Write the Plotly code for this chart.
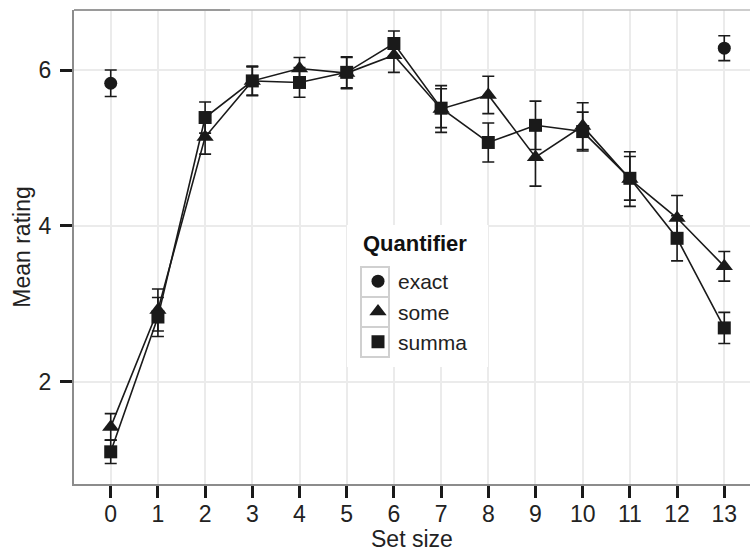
import plotly.graph_objects as go

set_size = list(range(14))

exact_x = [0, 13]
exact_y = [5.83, 6.28]
exact_err = [0.17, 0.16]

some_y = [1.42, 2.92, 5.14, 5.86, 6.02, 5.96, 6.19, 5.50, 5.68, 4.88, 5.28, 4.60, 4.10, 3.48]
some_err = [0.17, 0.27, 0.22, 0.18, 0.14, 0.20, 0.22, 0.30, 0.24, 0.37, 0.30, 0.35, 0.29, 0.19]

summa_y = [1.10, 2.83, 5.39, 5.86, 5.84, 5.97, 6.34, 5.51, 5.07, 5.29, 5.21, 4.61, 3.84, 2.69]
summa_err = [0.15, 0.25, 0.20, 0.19, 0.19, 0.20, 0.16, 0.25, 0.25, 0.31, 0.25, 0.28, 0.29, 0.20]

x_ticks = list(range(14))
y_ticks = [2, 4, 6]

INK = "#1a1a1a"
FONT = "Liberation Sans, Arial, Helvetica, sans-serif"

# plot area in pixels
L, T, R, B = 74, 10, 750, 484
W, H = R - L, B - T

def px(x):
    return (x - L) / W

def py(y):
    return (B - y) / H

fig = go.Figure()

# connecting lines
for ys, name in [(some_y, "some"), (summa_y, "summa")]:
    fig.add_trace(go.Scatter(x=set_size, y=ys, mode="lines",
                             line=dict(color=INK, width=1.6),
                             showlegend=False, hoverinfo="skip"))

series = [
    ("exact", exact_x, exact_y, exact_err, "circle", 13),
    ("some", set_size, some_y, some_err, "triangle-up", 15),
    ("summa", set_size, summa_y, summa_err, "square", 13),
]
for name, xs, ys, es, sym, sz in series:
    fig.add_trace(go.Scatter(
        x=xs, y=ys, mode="markers", name=name,
        marker=dict(symbol=sym, size=sz, color=INK, line=dict(width=0)),
        error_y=dict(type="data", array=es, visible=True, color=INK,
                     thickness=1.6, width=6),
    ))

shapes = []
# legend background (covers gridlines)
shapes.append(dict(type="rect", xref="paper", yref="paper",
                   x0=px(347), x1=px(488), y0=py(367), y1=py(225),
                   fillcolor="white", line=dict(width=0), layer="above"))
# key boxes
for i in range(3):
    top = 267 + 30 * i
    shapes.append(dict(type="rect", xref="paper", yref="paper",
                       x0=px(361), x1=px(389), y0=py(top + 30), y1=py(top),
                       fillcolor="white", line=dict(color="#d0d0d0", width=2),
                       layer="above"))
# top panel border
shapes.append(dict(type="line", xref="paper", yref="paper",
                   x0=0, x1=px(230), y0=1, y1=1,
                   line=dict(color="#9a9a9a", width=2)))
shapes.append(dict(type="line", xref="paper", yref="paper",
                   x0=px(230), x1=1, y0=1, y1=1,
                   line=dict(color="#bdbdbd", width=1.5)))

annotations = [
    dict(text="<b>Quantifier</b>", xref="paper", yref="paper",
         x=px(361), y=py(244), xanchor="left", yanchor="middle",
         showarrow=False, font=dict(size=22, color="#111111")),
    dict(text="Set size", xref="paper", yref="paper",
         x=0.5, y=py(539), xanchor="center", yanchor="middle",
         showarrow=False, font=dict(size=23, color="#222222")),
]

fig.update_layout(
    width=750, height=555,
    margin=dict(l=L, r=750 - R, t=T, b=555 - B),
    paper_bgcolor="white", plot_bgcolor="white",
    font=dict(family=FONT, size=23, color="#222222"),
    shapes=shapes,
    annotations=annotations,
    showlegend=True,
    legend=dict(
        x=px(358), y=py(261), xanchor="left", yanchor="top",
        bgcolor="rgba(0,0,0,0)", borderwidth=0,
        font=dict(size=21, color="#222222"),
        tracegroupgap=0, itemsizing="trace",
    ),
    xaxis=dict(
        range=[-0.778, 13.545], tickmode="array", tickvals=x_ticks,
        ticktext=[str(v) for v in x_ticks],
        showgrid=True, gridcolor="#ebebeb", gridwidth=1.5,
        zeroline=False, showline=True, linecolor="#8c8c8c", linewidth=2,
        ticks="outside", ticklen=12, tickwidth=3, tickcolor="#1a1a1a",
        tickfont=dict(size=23), ticklabelstandoff=-4,
        automargin=False,
    ),
    yaxis=dict(
        range=[0.687, 6.770], tickmode="array", tickvals=y_ticks,
        ticktext=[str(v) for v in y_ticks],
        showgrid=True, gridcolor="#ebebeb", gridwidth=1.5,
        zeroline=False, showline=True, linecolor="#8c8c8c", linewidth=2,
        ticks="outside", ticklen=12, tickwidth=3, tickcolor="#1a1a1a",
        tickfont=dict(size=23), ticklabelstandoff=4,
        title=dict(text="Mean rating", font=dict(size=23), standoff=2),
        automargin=False,
    ),
)

fig.write_html("out.html")
